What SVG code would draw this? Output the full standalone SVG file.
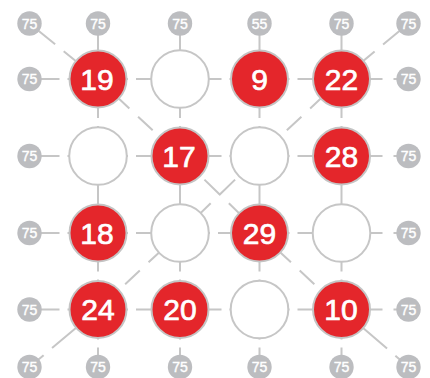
<svg xmlns="http://www.w3.org/2000/svg" width="430" height="378" viewBox="0 0 430 378">
<style>
.c{stroke:#c6c6c6;stroke-width:2;fill:none}
.d30{stroke-dasharray:30 8}
.d41{stroke-dasharray:41 11}
.dd{stroke-dasharray:20 12;stroke-dashoffset:9}
.dx{stroke-dasharray:22 12}
.d33{stroke-dasharray:33 11}
.d60{stroke-dasharray:60 11}
.red circle{fill:#e4262b;stroke:#c4c4c4;stroke-width:2}
.emp circle{fill:#fff;stroke:#c6c6c6;stroke-width:2}
.red text{fill:#fff;stroke:#fff;stroke-width:0.7;font-family:"Liberation Sans",Arial,sans-serif;font-size:30px;text-anchor:middle}
.sm circle{fill:#bcbdc0}
.sm text{fill:#fff;stroke:#fff;stroke-width:0.4;font-family:"Liberation Sans",Arial,sans-serif;font-size:14px;text-anchor:middle}
</style>
<g id="connectors" class="c">
<line class="d30" x1="29.5" y1="79" x2="98" y2="79"/>
<line class="d30" x1="98" y1="79" x2="180" y2="79"/>
<line class="d30" x1="259.5" y1="79" x2="180" y2="79"/>
<line class="d30" x1="259.5" y1="79" x2="341.5" y2="79"/>
<line class="d41" x1="341.5" y1="79" x2="408.5" y2="79"/>
<line class="d30" x1="29.5" y1="156" x2="98" y2="156"/>
<line class="d30" x1="98" y1="156" x2="180" y2="156"/>
<line class="d30" x1="259.5" y1="156" x2="180" y2="156"/>
<line class="d30" x1="259.5" y1="156" x2="341.5" y2="156"/>
<line class="d41" x1="341.5" y1="156" x2="408.5" y2="156"/>
<line class="d30" x1="29.5" y1="233" x2="98" y2="233"/>
<line class="d30" x1="98" y1="233" x2="180" y2="233"/>
<line class="d30" x1="180" y1="233" x2="259.5" y2="233"/>
<line class="d30" x1="259.5" y1="233" x2="341.5" y2="233"/>
<line class="d41" x1="341.5" y1="233" x2="408.5" y2="233"/>
<line class="d30" x1="29.5" y1="309.5" x2="98" y2="309.5"/>
<line class="d30" x1="98" y1="309.5" x2="180" y2="309.5"/>
<line class="d30" x1="259.5" y1="309.5" x2="180" y2="309.5"/>
<line class="d30" x1="259.5" y1="309.5" x2="341.5" y2="309.5"/>
<line class="d41" x1="341.5" y1="309.5" x2="408.5" y2="309.5"/>
<line class="d30" x1="98" y1="23.5" x2="98" y2="79"/>
<line class="d30" x1="98" y1="156" x2="98" y2="79"/>
<line x1="98" y1="156" x2="98" y2="233"/>
<line class="d30" x1="98" y1="309.5" x2="98" y2="233"/>
<line class="d30" x1="98" y1="309.5" x2="98" y2="367"/>
<line class="d30" x1="180" y1="23.5" x2="180" y2="79"/>
<line class="d30" x1="180" y1="156" x2="180" y2="79"/>
<line x1="180" y1="156" x2="180" y2="233"/>
<line class="d30" x1="180" y1="309.5" x2="180" y2="233"/>
<line class="d30" x1="180" y1="309.5" x2="180" y2="367"/>
<line class="d30" x1="259.5" y1="23.5" x2="259.5" y2="79"/>
<line class="d30" x1="259.5" y1="156" x2="259.5" y2="79"/>
<line x1="259.5" y1="156" x2="259.5" y2="233"/>
<line class="d30" x1="259.5" y1="309.5" x2="259.5" y2="233"/>
<line class="d30" x1="259.5" y1="309.5" x2="259.5" y2="367"/>
<line class="d30" x1="341.5" y1="23.5" x2="341.5" y2="79"/>
<line class="d30" x1="341.5" y1="156" x2="341.5" y2="79"/>
<line x1="341.5" y1="156" x2="341.5" y2="233"/>
<line class="d30" x1="341.5" y1="309.5" x2="341.5" y2="233"/>
<line class="d30" x1="341.5" y1="309.5" x2="341.5" y2="367"/>
<line class="d33" x1="29.5" y1="23.5" x2="98" y2="79"/>
<line class="dd" x1="98" y1="79" x2="180" y2="156"/>
<line class="dx" x1="180" y1="156" x2="259.5" y2="233"/>
<line class="dd" x1="259.5" y1="233" x2="341.5" y2="309.5"/>
<line class="d60" x1="341.5" y1="309.5" x2="408.5" y2="367"/>
<line class="d33" x1="408.5" y1="23.5" x2="341.5" y2="79"/>
<line class="dd" x1="341.5" y1="79" x2="259.5" y2="156"/>
<line class="dx" x1="259.5" y1="156" x2="180" y2="233"/>
<line class="dd" x1="180" y1="233" x2="98" y2="309.5"/>
<line class="d60" x1="98" y1="309.5" x2="29.5" y2="367"/>
</g>
<g id="n19" class="red"><circle cx="98" cy="79" r="28.5"/><text x="97" y="89.7">19</text></g>
<g id="n_r1c2" class="emp"><circle cx="180" cy="79" r="28.8"/></g>
<g id="n9" class="red"><circle cx="259.5" cy="79" r="28.5"/><text x="259.5" y="89.7">9</text></g>
<g id="n22" class="red"><circle cx="341.5" cy="79" r="28.5"/><text x="341.5" y="89.7">22</text></g>
<g id="n_r2c1" class="emp"><circle cx="98" cy="156" r="28.8"/></g>
<g id="n17" class="red"><circle cx="180" cy="156" r="28.5"/><text x="179" y="166.7">17</text></g>
<g id="n_r2c3" class="emp"><circle cx="259.5" cy="156" r="28.8"/></g>
<g id="n28" class="red"><circle cx="341.5" cy="156" r="28.5"/><text x="341.5" y="166.7">28</text></g>
<g id="n18" class="red"><circle cx="98" cy="233" r="28.5"/><text x="97" y="243.7">18</text></g>
<g id="n_r3c2" class="emp"><circle cx="180" cy="233" r="28.8"/></g>
<g id="n29" class="red"><circle cx="259.5" cy="233" r="28.5"/><text x="259.5" y="243.7">29</text></g>
<g id="n_r3c4" class="emp"><circle cx="341.5" cy="233" r="28.8"/></g>
<g id="n24" class="red"><circle cx="98" cy="309.5" r="28.5"/><text x="98" y="320.2">24</text></g>
<g id="n20" class="red"><circle cx="180" cy="309.5" r="28.5"/><text x="180" y="320.2">20</text></g>
<g id="n_r4c3" class="emp"><circle cx="259.5" cy="309.5" r="28.8"/></g>
<g id="n10" class="red"><circle cx="341.5" cy="309.5" r="28.5"/><text x="341" y="320.2">10</text></g>
<g id="t1" class="sm"><circle cx="29.5" cy="23.5" r="12.2"/><text x="29.5" y="28.5">75</text></g>
<g id="t2" class="sm"><circle cx="98" cy="23.5" r="12.2"/><text x="98" y="28.5">75</text></g>
<g id="t3" class="sm"><circle cx="180" cy="23.5" r="12.2"/><text x="180" y="28.5">75</text></g>
<g id="t4" class="sm"><circle cx="259.5" cy="23.5" r="12.2"/><text x="259.5" y="28.5">55</text></g>
<g id="t5" class="sm"><circle cx="341.5" cy="23.5" r="12.2"/><text x="341.5" y="28.5">75</text></g>
<g id="t6" class="sm"><circle cx="408.5" cy="23.5" r="12.2"/><text x="408.5" y="28.5">75</text></g>
<g id="l1" class="sm"><circle cx="29.5" cy="79" r="12.2"/><text x="29.5" y="84">75</text></g>
<g id="l2" class="sm"><circle cx="29.5" cy="156" r="12.2"/><text x="29.5" y="161">75</text></g>
<g id="l3" class="sm"><circle cx="29.5" cy="233" r="12.2"/><text x="29.5" y="238">75</text></g>
<g id="l4" class="sm"><circle cx="29.5" cy="309.5" r="12.2"/><text x="29.5" y="314.5">75</text></g>
<g id="r1" class="sm"><circle cx="408.5" cy="79" r="12.2"/><text x="408.5" y="84">75</text></g>
<g id="r2" class="sm"><circle cx="408.5" cy="156" r="12.2"/><text x="408.5" y="161">75</text></g>
<g id="r3" class="sm"><circle cx="408.5" cy="233" r="12.2"/><text x="408.5" y="238">75</text></g>
<g id="r4" class="sm"><circle cx="408.5" cy="309.5" r="12.2"/><text x="408.5" y="314.5">75</text></g>
<g id="b1" class="sm"><circle cx="29.5" cy="367" r="12.2"/><text x="29.5" y="372">75</text></g>
<g id="b2" class="sm"><circle cx="98" cy="367" r="12.2"/><text x="98" y="372">75</text></g>
<g id="b3" class="sm"><circle cx="180" cy="367" r="12.2"/><text x="180" y="372">75</text></g>
<g id="b4" class="sm"><circle cx="259.5" cy="367" r="12.2"/><text x="259.5" y="372">75</text></g>
<g id="b5" class="sm"><circle cx="341.5" cy="367" r="12.2"/><text x="341.5" y="372">75</text></g>
<g id="b6" class="sm"><circle cx="408.5" cy="367" r="12.2"/><text x="408.5" y="372">75</text></g>
</svg>
